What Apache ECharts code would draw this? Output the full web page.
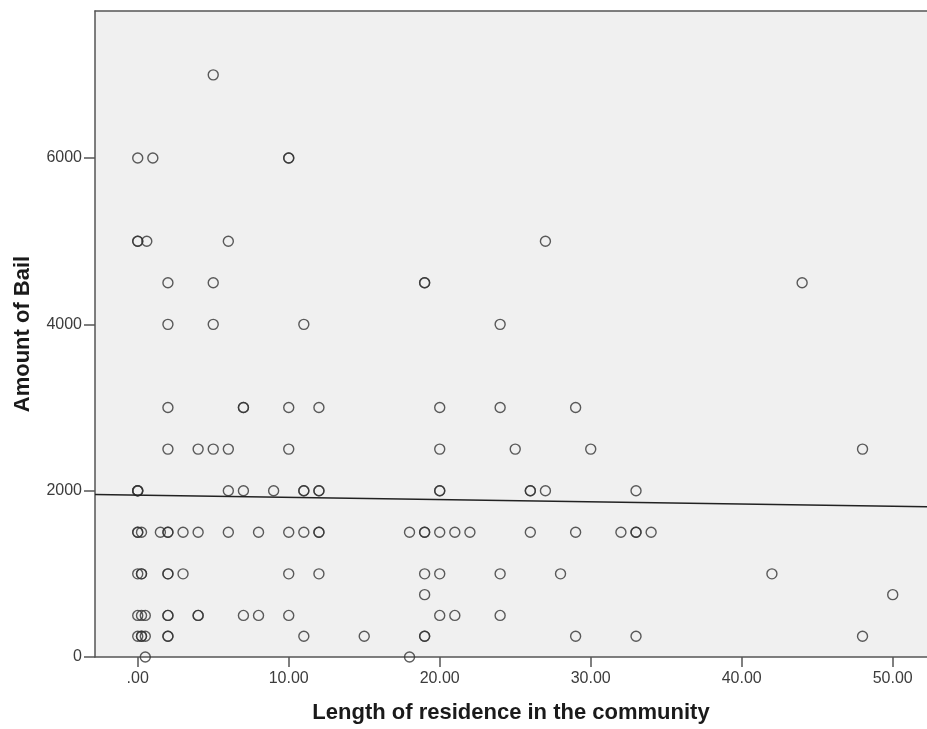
<!DOCTYPE html>
<html>
<head>
<meta charset="utf-8">
<title>Amount of Bail vs Length of residence</title>
<script src="https://cdn.jsdelivr.net/npm/echarts@6/dist/echarts.min.js"></script>
<style>
  html, body { margin: 0; padding: 0; background: #fff; }
  #chart { width: 927px; height: 729px; }
</style>
</head>
<body>
<div id="chart"></div>
<script>
// length of residence (years) and amount of bail, one entry per case
const residence = [
  5,
  0, 1, 10, 10,
  0, 0, 0.6, 6, 27,
  2, 5, 19, 19, 44,
  2, 5, 11, 24,
  2, 7, 7, 10, 12, 20, 24, 29,
  2, 4, 5, 6, 10, 20, 25, 30, 48,
  0, 0, 0, 6, 7, 9, 11, 11, 12, 12, 20, 20, 26, 26, 27, 33,
  0, 0, 0.25, 1.5, 2, 2, 3, 4, 6, 8, 10, 11, 12, 12, 18, 19, 19, 20, 21, 22, 26, 29, 32, 33, 33, 34,
  0, 0.25, 0.25, 2, 2, 3, 10, 12, 19, 20, 24, 28, 42,
  19, 50,
  0, 0.25, 0.5, 2, 2, 4, 4, 7, 8, 10, 20, 21, 24,
  0, 0.25, 0.25, 0.5, 2, 2, 11, 15, 19, 19, 29, 33, 48,
  0.5, 18
];
const bail = [
  7000,
  6000, 6000, 6000, 6000,
  5000, 5000, 5000, 5000, 5000,
  4500, 4500, 4500, 4500, 4500,
  4000, 4000, 4000, 4000,
  3000, 3000, 3000, 3000, 3000, 3000, 3000, 3000,
  2500, 2500, 2500, 2500, 2500, 2500, 2500, 2500, 2500,
  2000, 2000, 2000, 2000, 2000, 2000, 2000, 2000, 2000, 2000, 2000, 2000, 2000, 2000, 2000, 2000,
  1500, 1500, 1500, 1500, 1500, 1500, 1500, 1500, 1500, 1500, 1500, 1500, 1500, 1500, 1500, 1500, 1500, 1500, 1500, 1500, 1500, 1500, 1500, 1500, 1500, 1500,
  1000, 1000, 1000, 1000, 1000, 1000, 1000, 1000, 1000, 1000, 1000, 1000, 1000,
  750, 750,
  500, 500, 500, 500, 500, 500, 500, 500, 500, 500, 500, 500, 500,
  250, 250, 250, 250, 250, 250, 250, 250, 250, 250, 250, 250, 250,
  0, 0
];
// fit line end points (left and right edge of the plot)
const fitX = [-2.83, 52.27];
const fitY = [1954, 1807];

const xTicks = [0, 10, 20, 30, 40, 50];
const xTickLabels = [".00", "10.00", "20.00", "30.00", "40.00", "50.00"];
const yTicks = [0, 2000, 4000, 6000];

const points = residence.map((x, i) => [x, bail[i]]);
const fitLine = fitX.map((x, i) => [x, fitY[i]]);

const labelFont = { fontFamily: "Liberation Sans, Arial, sans-serif", fontSize: 16, color: "#3c3c3c" };
const titleFont = { fontFamily: "Liberation Sans, Arial, sans-serif", fontSize: 22, fontWeight: "bold", color: "#1a1a1a" };
const axisColor = "#555";

const chart = echarts.init(document.getElementById("chart"));
chart.setOption({
  animation: false,
  backgroundColor: "#fff",
  grid: {
    left: 95, right: 0, top: 11, bottom: 71,
    show: true, backgroundColor: "#f0f0f0", borderWidth: 0
  },
  xAxis: [
    {
      type: "value",
      min: -2.83,
      max: 52.27,
      name: "Length of residence in the community",
      nameLocation: "middle",
      nameGap: 45,
      nameTextStyle: titleFont,
      axisLine: { show: true, onZero: false, lineStyle: { color: axisColor, width: 1.5 } },
      axisTick: { show: true, length: 10, customValues: xTicks, lineStyle: { color: axisColor, width: 1.5 } },
      axisLabel: {
        margin: 14,
        customValues: xTicks,
        formatter: v => xTickLabels[xTicks.indexOf(v)],
        ...labelFont
      },
      splitLine: { show: false }
    },
    {
      type: "value",
      position: "top",
      min: -2.83,
      max: 52.27,
      axisLine: { show: true, onZero: false, lineStyle: { color: axisColor, width: 1.5 } },
      axisTick: { show: false },
      axisLabel: { show: false },
      splitLine: { show: false }
    }
  ],
  yAxis: {
    type: "value",
    min: 0,
    max: 7768,
    name: "Amount of Bail",
    nameLocation: "middle",
    nameGap: 61,
    nameRotate: 90,
    nameTextStyle: titleFont,
    axisLine: { show: true, onZero: false, lineStyle: { color: axisColor, width: 1.5 } },
    axisTick: { show: true, length: 11, customValues: yTicks, lineStyle: { color: axisColor, width: 1.5 } },
    axisLabel: { margin: 13, customValues: yTicks, formatter: v => String(v), ...labelFont },
    splitLine: { show: false }
  },
  series: [
    {
      type: "scatter",
      data: points,
      symbol: "circle",
      symbolSize: 10,
      itemStyle: { color: "rgba(0,0,0,0)", borderColor: "#333", borderWidth: 1.4 }
    },
    {
      type: "line",
      data: fitLine,
      symbol: "none",
      lineStyle: { color: "#222", width: 1.5 },
      z: 3
    }
  ]
});
</script>
</body>
</html>
